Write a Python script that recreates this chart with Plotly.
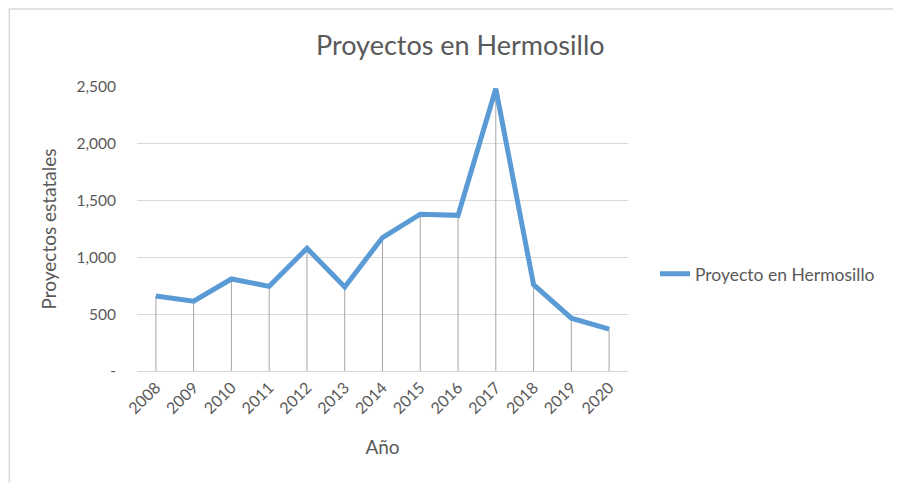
import plotly.graph_objects as go

YEARS = ["2008", "2009", "2010", "2011", "2012", "2013", "2014",
         "2015", "2016", "2017", "2018", "2019", "2020"]
PROYECTOS = [660, 615, 810, 745, 1080, 740, 1175, 1380, 1370, 2485, 760, 465, 368]
Y_TICKS = [0, 500, 1000, 1500, 2000, 2500]
Y_TICK_TEXT = ["-", "500", "1,000", "1,500", "2,000", "2,500"]

BLUE = "#5b9bd5"
TEXT = "#595959"
GRID = "#d9d9d9"
FONT = "Lato, 'Open Sans', sans-serif"

fig = go.Figure()

# drop lines from each point down to the axis
fig.add_trace(go.Scatter(
    x=YEARS, y=PROYECTOS, mode="markers", marker=dict(size=0.1, opacity=0),
    error_y=dict(type="data", symmetric=False, array=[0] * len(PROYECTOS),
                 arrayminus=PROYECTOS, color="#a6a6a6", thickness=1, width=0),
    showlegend=False, hoverinfo="skip",
))
fig.add_trace(go.Scatter(
    x=YEARS, y=PROYECTOS, mode="lines", name="Proyecto en Hermosillo",
    line=dict(color=BLUE, width=5),
))

fig.update_layout(
    width=901, height=483,
    margin=dict(l=129, r=281, t=79, b=120),
    paper_bgcolor="white", plot_bgcolor="white",
    font=dict(family=FONT, color=TEXT, size=15),
    title=dict(text="Proyectos en Hermosillo", x=0.502, xanchor="center",
               y=0.923, yanchor="middle", font=dict(size=27, color=TEXT)),
    legend=dict(x=1.055, xanchor="left", y=0.342, yanchor="middle",
                font=dict(size=17.5, color=TEXT), bgcolor="rgba(0,0,0,0)"),
    shapes=[dict(type="rect", xref="paper", yref="paper",
                 x0=-0.26, x1=1.8, y0=-0.6, y1=1.275,
                 line=dict(color="#d9d9d9", width=1.5))],
)
fig.update_xaxes(
    type="category", range=[-0.5, 12.5], tickangle=-45, showgrid=False, showline=True,
    linecolor=GRID, linewidth=1, ticks="", tickfont=dict(size=16, color=TEXT),
    title=dict(text="Año", font=dict(size=19, color=TEXT), standoff=24),
)
fig.update_yaxes(
    range=[0, 2500], tickvals=Y_TICKS, ticktext=Y_TICK_TEXT,
    showgrid=True, gridcolor=GRID, gridwidth=1, showline=False, zeroline=False,
    ticks="", ticklabelstandoff=20, tickfont=dict(size=15.5, color=TEXT),
    title=dict(text="Proyectos estatales", font=dict(size=19, color=TEXT), standoff=14),
)

fig.write_html("out.html")
